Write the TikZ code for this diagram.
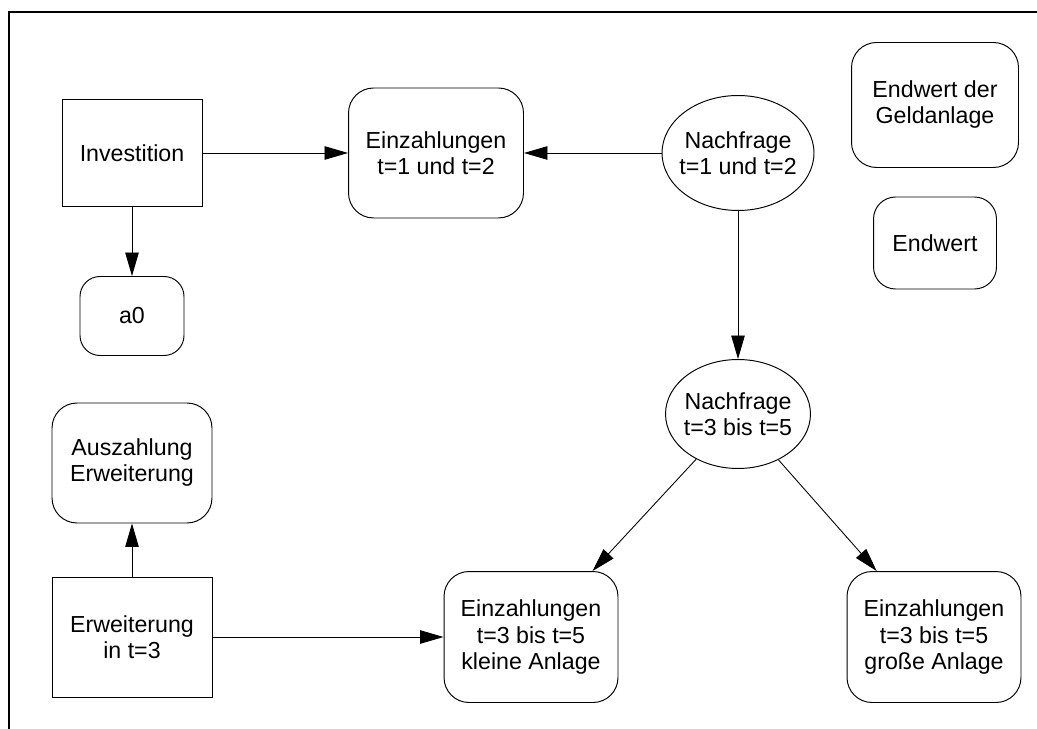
\documentclass[tikz,border=0pt]{standalone}
\usepackage{fontspec}
\setmainfont{Liberation Sans}
\usepackage{tikz}
\usetikzlibrary{arrows.meta,shapes.geometric}
\tikzset{
  base/.style={draw=black, line width=0.55pt, align=center, inner sep=0pt,
    font=\fontsize{13.2}{14.8}\selectfont},
  box/.style={base, rectangle},
  rbox/.style={base, rectangle, rounded corners=0.5cm},
  oval/.style={base, ellipse, inner xsep=-3pt},
  arr/.style={draw=black, line width=0.5pt, -{Triangle[length=0.47cm, width=0.27cm]}},
  frame/.style={draw=black, line width=1.7pt}
}
\begin{document}
\begin{tikzpicture}[x=0.02cm, y=-0.02cm]
  \useasboundingbox (0,0) rectangle (1037,729);
  \draw[frame] (1037,12) -- (9,12) -- (9,729);

  \node[box, minimum width=2.8cm, minimum height=2.14cm] (inv) at (132,153) {Investition};
  \node[rbox, minimum width=3.5cm, minimum height=2.6cm] (ez1) at (436,153) {Einzahlungen\\t=1 und t=2};
  \node[oval, minimum width=3.04cm, minimum height=2.3cm] (nf1) at (738,153) {Nachfrage\\t=1 und t=2};
  \node[rbox, minimum width=3.34cm, minimum height=2.5cm] (geld) at (935,105) {Endwert der\\Geldanlage};
  \node[rbox, minimum width=2.46cm, minimum height=1.84cm, rounded corners=0.44cm] (endw) at (935,243) {Endwert};
  \node[rbox, minimum width=2.08cm, minimum height=1.58cm, rounded corners=0.4cm] (a0) at (132,316) {a0};
  \node[oval, minimum width=2.9cm, minimum height=2.18cm] (nf2) at (738,414) {Nachfrage\\t=3 bis t=5};
  \node[rbox, minimum width=3.2cm, minimum height=2.4cm] (ausz) at (132,463) {Auszahlung\\Erweiterung};
  \node[box, minimum width=3.2cm, minimum height=2.4cm] (erw) at (132,637) {Erweiterung\\in t=3};
  \node[rbox, minimum width=3.48cm, minimum height=2.62cm] (klein) at (531,637) {Einzahlungen\\t=3 bis t=5\\kleine Anlage};
  \node[rbox, minimum width=3.48cm, minimum height=2.62cm] (gross) at (934,637) {Einzahlungen\\t=3 bis t=5\\große Anlage};

  \draw[arr] (inv) -- (ez1);
  \draw[arr] (nf1) -- (ez1);
  \draw[arr] (inv) -- (a0);
  \draw[arr] (nf1) -- (nf2);
  \draw[arr] (nf2) -- (klein.47.5);
  \draw[arr] (nf2) -- (gross.131);
  \draw[arr] (erw) -- (ausz);
  \draw[arr] (erw) -- (klein);
\end{tikzpicture}
\end{document}
